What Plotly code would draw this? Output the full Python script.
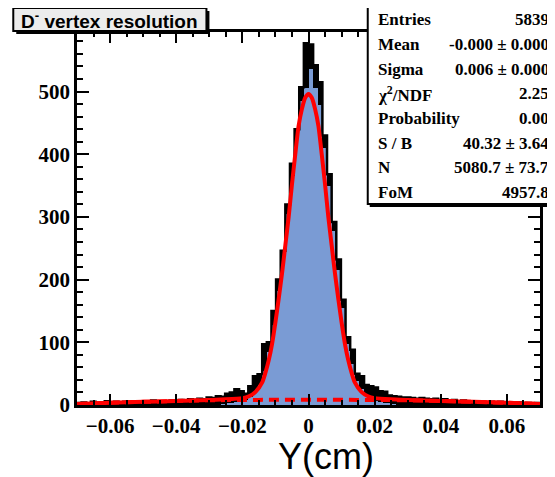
import numpy as np
import plotly.graph_objects as go

# ---------------- data ----------------
bin_low = -0.07
bin_high = 0.07
n_bins = 100

all_counts = [
    3, 4, 2, 5, 3, 4, 6, 3, 5, 4,
    5, 4, 6, 5, 3, 6, 7, 5, 6, 4,
    7, 6, 8, 6, 9, 8, 10, 9, 12, 11,
    14, 13, 18, 20, 25, 22, 18, 30, 46, 49,
    97, 100, 150, 200, 246, 320, 385, 440, 507, 577,
    575, 542, 515, 430, 368, 292, 232, 168, 108, 88,
    50, 46, 32, 30, 28, 22, 21, 15, 14, 13,
    12, 12, 11, 10, 11, 10, 9, 10, 8, 9,
    7, 8, 6, 7, 6, 5, 6, 5, 4, 5,
    4, 5, 3, 4, 3, 4, 2, 3, 2, 3,
]

signal_counts = [
    0, 0, 0, 0, 0, 0, 0, 0, 0, 0,
    0, 0, 0, 0, 0, 0, 0, 0, 0, 0,
    0, 0, 0, 0, 0, 0, 0, 0, 0, 0,
    0, 1, 2, 3, 4, 6, 8, 12, 20, 32,
    55, 85, 128, 182, 232, 305, 365, 425, 485, 506,
    536, 505, 478, 410, 350, 278, 215, 155, 98, 66,
    38, 26, 16, 10, 7, 4, 3, 2, 1, 0,
    0, 0, 0, 0, 0, 0, 0, 0, 0, 0,
    0, 0, 0, 0, 0, 0, 0, 0, 0, 0,
    0, 0, 0, 0, 0, 0, 0, 0, 0, 0,
]

fit_x = [-0.07, -0.06, -0.05, -0.04, -0.03, -0.025, -0.02, -0.018, -0.016, -0.014,
         -0.013, -0.012, -0.011, -0.010, -0.009, -0.008, -0.007, -0.006, -0.005,
         -0.004, -0.003, -0.002, -0.001, 0.0,
         0.001, 0.002, 0.003, 0.004, 0.005, 0.006, 0.007, 0.008, 0.009, 0.010,
         0.011, 0.012, 0.013, 0.014, 0.016, 0.018, 0.02, 0.025, 0.03, 0.04,
         0.05, 0.06, 0.07]
fit_y = [1.5, 3.5, 5, 6.5, 8, 9, 11, 14, 21, 36,
         52, 72, 98, 132, 170, 210, 255, 300, 352,
         400, 445, 472, 490, 496,
         490, 472, 445, 400, 352, 300, 255, 210, 170, 132,
         98, 72, 52, 36, 21, 14, 11, 9, 8, 6.5,
         5, 3.5, 1.5]

bkg_x = [-0.07, -0.06, -0.05, -0.04, -0.03, -0.02, -0.01, 0.0,
         0.01, 0.02, 0.03, 0.04, 0.05, 0.06, 0.07]
bkg_y = [1.5, 3.5, 5, 6.5, 7.5, 8, 8.3, 8.5, 8.3, 8, 7.5, 6.5, 5, 3.5, 1.5]

stat_labels = ["Entries", "Mean", "Sigma", "χ<sup>2</sup>/NDF", "Probability",
               "S / B", "N", "FoM"]
stat_values = ["5839", "-0.000 ± 0.000", "0.006 ± 0.000", "2.25", "0.00",
               "40.32 ± 3.64", "5080.7 ± 73.7", "4957.8"]

title_text = "D<sup>-</sup> vertex resolution"
x_title = "Y(cm)"

# ---------------- layout geometry (page pixels) ----------------
PAGE_W, PAGE_H = 555, 477
OFF = 8  # default body margin of the html page
W_FIG, H_FIG = PAGE_W - OFF, PAGE_H - OFF
L, R, T, B = 77, 542, 32, 405          # plot area in page pixels
ml, mr, mt, mb = L - OFF, OFF + W_FIG - R, T - OFF, OFF + H_FIG - B
PW, PH = R - L, B - T


def fx(p):
    return (p - L) / PW


def fy(p):
    return (B - p) / PH


bw = (bin_high - bin_low) / n_bins
centers = np.linspace(bin_low + bw / 2, bin_high - bw / 2, n_bins)
edges = np.linspace(bin_low, bin_high, n_bins + 1)
step_y = list(all_counts) + [all_counts[-1]]

fig = go.Figure()
fig.add_trace(go.Bar(x=centers, y=all_counts, width=bw,
                     marker=dict(color="black", line=dict(width=0)),
                     hoverinfo="skip"))
fig.add_trace(go.Bar(x=centers, y=signal_counts, width=bw,
                     marker=dict(color="rgb(122,155,212)", line=dict(width=0)),
                     hoverinfo="skip"))
fig.add_trace(go.Scatter(x=edges, y=step_y, mode="lines",
                         line=dict(color="black", width=2.5, shape="hv"),
                         hoverinfo="skip"))
fig.add_trace(go.Scatter(x=bkg_x, y=bkg_y, mode="lines",
                         line=dict(color="red", width=4, dash="10px,6px", shape="spline"),
                         hoverinfo="skip"))
fig.add_trace(go.Scatter(x=fit_x, y=fit_y, mode="lines",
                         line=dict(color="red", width=4, shape="spline", smoothing=0.6),
                         hoverinfo="skip"))

tickfont = dict(family="Liberation Serif", size=21, color="black", weight="bold")

fig.update_layout(
    width=W_FIG, height=H_FIG,
    margin=dict(l=ml, r=mr, t=mt, b=mb, pad=0),
    paper_bgcolor="white", plot_bgcolor="white",
    barmode="overlay", bargap=0, showlegend=False,
    xaxis=dict(range=[bin_low, bin_high], dtick=0.02, tick0=0,
               ticks="inside", ticklen=11, tickwidth=2, tickcolor="black",
               showline=True, linewidth=2.5, linecolor="black", mirror="allticks",
               showgrid=False, zeroline=False, tickfont=tickfont,
               minor=dict(ticks="inside", ticklen=5, tickwidth=2, dtick=0.005,
                          tickcolor="black", showgrid=False)),
    yaxis=dict(range=[0, 595], dtick=100, tick0=0,
               ticks="inside", ticklen=12, tickwidth=2, tickcolor="black",
               showline=True, linewidth=2.5, linecolor="black", mirror="allticks",
               showgrid=False, zeroline=False, tickfont=tickfont,
               minor=dict(ticks="inside", ticklen=6, tickwidth=2, dtick=20,
                          tickcolor="black", showgrid=False)),
)

shapes = []
# title box with shadow
shapes.append(dict(type="rect", xref="paper", yref="paper", layer="above",
                   x0=fx(16), x1=fx(210), y0=fy(34), y1=fy(11),
                   fillcolor="black", line=dict(width=0)))
shapes.append(dict(type="rect", xref="paper", yref="paper", layer="above",
                   x0=fx(13), x1=fx(207), y0=fy(31), y1=fy(8),
                   fillcolor="rgb(236,236,236)", line=dict(color="black", width=2)))
# stats box with shadow
shapes.append(dict(type="rect", xref="paper", yref="paper", layer="above",
                   x0=fx(371), x1=fx(560), y0=fy(207), y1=fy(9),
                   fillcolor="black", line=dict(width=0)))
shapes.append(dict(type="rect", xref="paper", yref="paper", layer="above",
                   x0=fx(369), x1=fx(558), y0=fy(204), y1=fy(6),
                   fillcolor="white", line=dict(color="black", width=2)))
fig.update_layout(shapes=shapes)

annotations = []
annotations.append(dict(text=title_text, xref="paper", yref="paper",
                        x=fx(19), y=fy(20), xanchor="left", yanchor="middle",
                        showarrow=False,
                        font=dict(family="Liberation Sans", size=19, color="black",
                                  weight="bold")))
row_y0, row_dy = 20, 24.6
statfont = dict(family="Liberation Serif", size=17, color="black", weight="bold")
for i, (lab, val) in enumerate(zip(stat_labels, stat_values)):
    yy = row_y0 + i * row_dy
    annotations.append(dict(text=lab, xref="paper", yref="paper",
                            x=fx(377), y=fy(yy), xanchor="left", yanchor="middle",
                            showarrow=False, font=statfont))
    annotations.append(dict(text=val, xref="paper", yref="paper",
                            x=fx(553), y=fy(yy), xanchor="right", yanchor="middle",
                            showarrow=False, font=statfont))
annotations.append(dict(text=x_title, xref="paper", yref="paper",
                        x=fx(327), y=fy(456), xanchor="center", yanchor="middle",
                        showarrow=False, borderpad=0,
                        font=dict(family="Liberation Sans", size=36, color="black")))
fig.update_layout(annotations=annotations)

fig.write_html("out.html")
